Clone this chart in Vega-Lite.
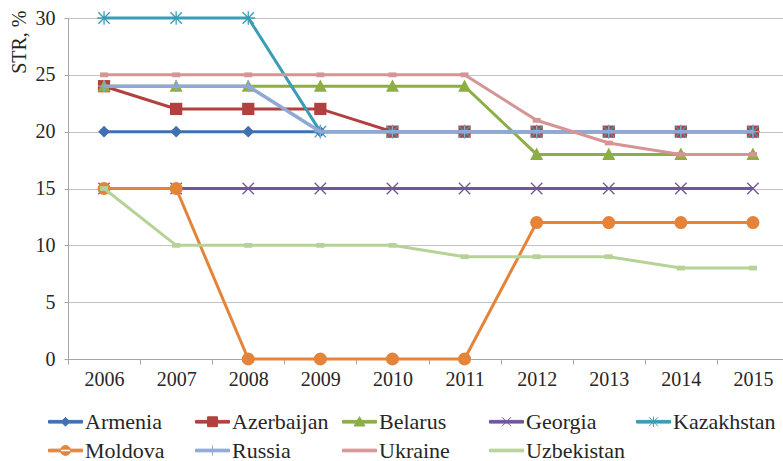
{
  "$schema": "https://vega.github.io/schema/vega-lite/v6.json",
  "width": 715,
  "height": 341,
  "autosize": "none",
  "padding": {"left": 68, "top": 18, "right": 0, "bottom": 102},
  "background": "white",
  "config": {"view": {"stroke": null}, "font": "Liberation Serif", "axis": {"labelFont": "Liberation Serif", "titleFont": "Liberation Serif"}, "legend": {"labelFont": "Liberation Serif"}},
  "data": {"values": [
    {"country": "Armenia", "year": 2006, "str": 20}, {"country": "Armenia", "year": 2007, "str": 20}, {"country": "Armenia", "year": 2008, "str": 20}, {"country": "Armenia", "year": 2009, "str": 20}, {"country": "Armenia", "year": 2010, "str": 20}, {"country": "Armenia", "year": 2011, "str": 20}, {"country": "Armenia", "year": 2012, "str": 20}, {"country": "Armenia", "year": 2013, "str": 20}, {"country": "Armenia", "year": 2014, "str": 20}, {"country": "Armenia", "year": 2015, "str": 20},
    {"country": "Azerbaijan", "year": 2006, "str": 24}, {"country": "Azerbaijan", "year": 2007, "str": 22}, {"country": "Azerbaijan", "year": 2008, "str": 22}, {"country": "Azerbaijan", "year": 2009, "str": 22}, {"country": "Azerbaijan", "year": 2010, "str": 20}, {"country": "Azerbaijan", "year": 2011, "str": 20}, {"country": "Azerbaijan", "year": 2012, "str": 20}, {"country": "Azerbaijan", "year": 2013, "str": 20}, {"country": "Azerbaijan", "year": 2014, "str": 20}, {"country": "Azerbaijan", "year": 2015, "str": 20},
    {"country": "Belarus", "year": 2006, "str": 24}, {"country": "Belarus", "year": 2007, "str": 24}, {"country": "Belarus", "year": 2008, "str": 24}, {"country": "Belarus", "year": 2009, "str": 24}, {"country": "Belarus", "year": 2010, "str": 24}, {"country": "Belarus", "year": 2011, "str": 24}, {"country": "Belarus", "year": 2012, "str": 18}, {"country": "Belarus", "year": 2013, "str": 18}, {"country": "Belarus", "year": 2014, "str": 18}, {"country": "Belarus", "year": 2015, "str": 18},
    {"country": "Georgia", "year": 2006, "str": 15}, {"country": "Georgia", "year": 2007, "str": 15}, {"country": "Georgia", "year": 2008, "str": 15}, {"country": "Georgia", "year": 2009, "str": 15}, {"country": "Georgia", "year": 2010, "str": 15}, {"country": "Georgia", "year": 2011, "str": 15}, {"country": "Georgia", "year": 2012, "str": 15}, {"country": "Georgia", "year": 2013, "str": 15}, {"country": "Georgia", "year": 2014, "str": 15}, {"country": "Georgia", "year": 2015, "str": 15},
    {"country": "Kazakhstan", "year": 2006, "str": 30}, {"country": "Kazakhstan", "year": 2007, "str": 30}, {"country": "Kazakhstan", "year": 2008, "str": 30}, {"country": "Kazakhstan", "year": 2009, "str": 20}, {"country": "Kazakhstan", "year": 2010, "str": 20}, {"country": "Kazakhstan", "year": 2011, "str": 20}, {"country": "Kazakhstan", "year": 2012, "str": 20}, {"country": "Kazakhstan", "year": 2013, "str": 20}, {"country": "Kazakhstan", "year": 2014, "str": 20}, {"country": "Kazakhstan", "year": 2015, "str": 20},
    {"country": "Moldova", "year": 2006, "str": 15}, {"country": "Moldova", "year": 2007, "str": 15}, {"country": "Moldova", "year": 2008, "str": 0}, {"country": "Moldova", "year": 2009, "str": 0}, {"country": "Moldova", "year": 2010, "str": 0}, {"country": "Moldova", "year": 2011, "str": 0}, {"country": "Moldova", "year": 2012, "str": 12}, {"country": "Moldova", "year": 2013, "str": 12}, {"country": "Moldova", "year": 2014, "str": 12}, {"country": "Moldova", "year": 2015, "str": 12},
    {"country": "Russia", "year": 2006, "str": 24}, {"country": "Russia", "year": 2007, "str": 24}, {"country": "Russia", "year": 2008, "str": 24}, {"country": "Russia", "year": 2009, "str": 20}, {"country": "Russia", "year": 2010, "str": 20}, {"country": "Russia", "year": 2011, "str": 20}, {"country": "Russia", "year": 2012, "str": 20}, {"country": "Russia", "year": 2013, "str": 20}, {"country": "Russia", "year": 2014, "str": 20}, {"country": "Russia", "year": 2015, "str": 20},
    {"country": "Ukraine", "year": 2006, "str": 25}, {"country": "Ukraine", "year": 2007, "str": 25}, {"country": "Ukraine", "year": 2008, "str": 25}, {"country": "Ukraine", "year": 2009, "str": 25}, {"country": "Ukraine", "year": 2010, "str": 25}, {"country": "Ukraine", "year": 2011, "str": 25}, {"country": "Ukraine", "year": 2012, "str": 21}, {"country": "Ukraine", "year": 2013, "str": 19}, {"country": "Ukraine", "year": 2014, "str": 18}, {"country": "Ukraine", "year": 2015, "str": 18},
    {"country": "Uzbekistan", "year": 2006, "str": 15}, {"country": "Uzbekistan", "year": 2007, "str": 10}, {"country": "Uzbekistan", "year": 2008, "str": 10}, {"country": "Uzbekistan", "year": 2009, "str": 10}, {"country": "Uzbekistan", "year": 2010, "str": 10}, {"country": "Uzbekistan", "year": 2011, "str": 9}, {"country": "Uzbekistan", "year": 2012, "str": 9}, {"country": "Uzbekistan", "year": 2013, "str": 9}, {"country": "Uzbekistan", "year": 2014, "str": 8}, {"country": "Uzbekistan", "year": 2015, "str": 8}
  ]},
  "encoding": {
    "x": {
      "field": "year", "type": "ordinal",
      "scale": {"type": "band", "paddingInner": 0, "paddingOuter": 0, "range": [0, 721]},
      "axis": {"title": null, "labelAngle": 0, "labelFont": "Liberation Serif", "labelFontSize": 20, "labelColor": "#262626", "labelPadding": 5, "tickBand": "extent", "ticks": true, "tickSize": 5, "tickColor": "#a6a6a6", "domainColor": "#a6a6a6", "grid": false}
    },
    "y": {
      "field": "str", "type": "quantitative",
      "scale": {"domain": [0, 30], "nice": false, "zero": true},
      "axis": {"title": "STR, %", "values": [0, 5, 10, 15, 20, 25, 30], "labelFont": "Liberation Serif", "labelFontSize": 20, "labelColor": "#262626", "tickSize": 4, "labelPadding": 9, "tickColor": "#a6a6a6", "domainColor": "#a6a6a6", "grid": true, "gridColor": "#c3c3c3", "titleFont": "Liberation Serif", "titleFontSize": 20, "titleFontWeight": "normal", "titleColor": "#262626", "titleX": -49, "titleY": -8, "titleAlign": "right", "titleBaseline": "middle", "titleAngle": -90}
    },
    "color": {
      "field": "country", "type": "nominal",
      "scale": {
        "domain": ["Armenia", "Azerbaijan", "Belarus", "Georgia", "Kazakhstan", "Moldova", "Russia", "Ukraine", "Uzbekistan"],
        "range": ["#4170B2", "#B0413E", "#8CAE45", "#70579C", "#3A9DB6", "#E3843A", "#8FA8D4", "#D59594", "#B6D296"]
      },
      "legend": {
        "title": null, "orient": "none", "legendX": -20, "legendY": 386, "direction": "horizontal", "columns": 5, "gridAlign": "all",
        "columnPadding": 5, "rowPadding": -5, "labelFont": "Liberation Serif", "labelFontSize": 22, "labelColor": "#262626", "labelOffset": 2, "labelLimit": 250, "symbolSize": 1156,
        "encode": {"symbols": {"update": {
          "fill": {"scale": "color", "field": "value"},
          "stroke": {"scale": "color", "field": "value"},
          "strokeWidth": {"value": 1},
          "opacity": {"value": 1},
          "size": {"value": 1156},
          "shape": {"signal": "'M-1,-0.08H1V0.08H-1Z ' + (datum.value==='Armenia' ? 'M0,-0.26L0.26,0L0,0.26L-0.26,0Z' : datum.value==='Azerbaijan' ? 'M-0.29,-0.29H0.29V0.29H-0.29Z' : datum.value==='Belarus' ? 'M0,-0.3L0.32,0.25H-0.32Z' : datum.value==='Georgia' ? 'M-0.26,-0.26L0.26,0.26M-0.26,0.26L0.26,-0.26' : datum.value==='Kazakhstan' ? 'M-0.26,-0.26L0.26,0.26M-0.26,0.26L0.26,-0.26M0,-0.3V0.3' : datum.value==='Moldova' ? 'M-0.29,0A0.29,0.29 0 1,0 0.29,0A0.29,0.29 0 1,0 -0.29,0Z' : datum.value==='Russia' ? 'M0,-0.3V0.3' : '')"}
        }}}
      }
    }
  },
  "layer": [
    {"transform": [{"filter": "datum.country==='Armenia'"}], "mark": {"type": "line", "strokeWidth": 3}},
    {"transform": [{"filter": "datum.country==='Armenia'"}], "mark": {"type": "point", "shape": "diamond", "filled": true, "size": 140, "opacity": 1}},
    {"transform": [{"filter": "datum.country==='Azerbaijan'"}], "mark": {"type": "line", "strokeWidth": 3}},
    {"transform": [{"filter": "datum.country==='Azerbaijan'"}], "mark": {"type": "point", "shape": "square", "filled": true, "size": 150, "opacity": 1}},
    {"transform": [{"filter": "datum.country==='Belarus'"}], "mark": {"type": "line", "strokeWidth": 3}},
    {"transform": [{"filter": "datum.country==='Belarus'"}], "mark": {"type": "point", "shape": "M0,-1.05L1,0.85H-1Z", "filled": true, "size": 169, "opacity": 1}},
    {"transform": [{"filter": "datum.country==='Georgia'"}], "mark": {"type": "line", "strokeWidth": 3}},
    {"transform": [{"filter": "datum.country==='Georgia'"}], "mark": {"type": "point", "shape": "M-1,-1L1,1M-1,1L1,-1", "filled": false, "strokeWidth": 1.3, "size": 130, "opacity": 1}},
    {"transform": [{"filter": "datum.country==='Kazakhstan'"}], "mark": {"type": "line", "strokeWidth": 3}},
    {"transform": [{"filter": "datum.country==='Kazakhstan'"}], "mark": {"type": "point", "shape": "M-1,-1L1,1M-1,1L1,-1M0,-1.2V1.2M-1.2,0H1.2", "filled": false, "strokeWidth": 1.3, "size": 130, "opacity": 1}},
    {"transform": [{"filter": "datum.country==='Moldova'"}], "mark": {"type": "line", "strokeWidth": 3}},
    {"transform": [{"filter": "datum.country==='Moldova'"}], "mark": {"type": "point", "shape": "circle", "filled": true, "size": 170, "opacity": 1}},
    {"transform": [{"filter": "datum.country==='Russia'"}], "mark": {"type": "line", "strokeWidth": 3.5}},
    {"transform": [{"filter": "datum.country==='Russia'"}], "mark": {"type": "point", "shape": "M0,-1V1M-1,0H1", "filled": false, "strokeWidth": 1.3, "size": 140, "opacity": 1}},
    {"transform": [{"filter": "datum.country==='Ukraine'"}], "mark": {"type": "line", "strokeWidth": 3}},
    {"transform": [{"filter": "datum.country==='Ukraine'"}], "mark": {"type": "point", "shape": "M-1,-0.6H1V0.6H-1Z", "filled": true, "size": 64, "opacity": 1}},
    {"transform": [{"filter": "datum.country==='Uzbekistan'"}], "mark": {"type": "line", "strokeWidth": 3}},
    {"transform": [{"filter": "datum.country==='Uzbekistan'"}], "mark": {"type": "point", "shape": "M-1,-0.6H1V0.6H-1Z", "filled": true, "size": 64, "opacity": 1}}
  ]
}
